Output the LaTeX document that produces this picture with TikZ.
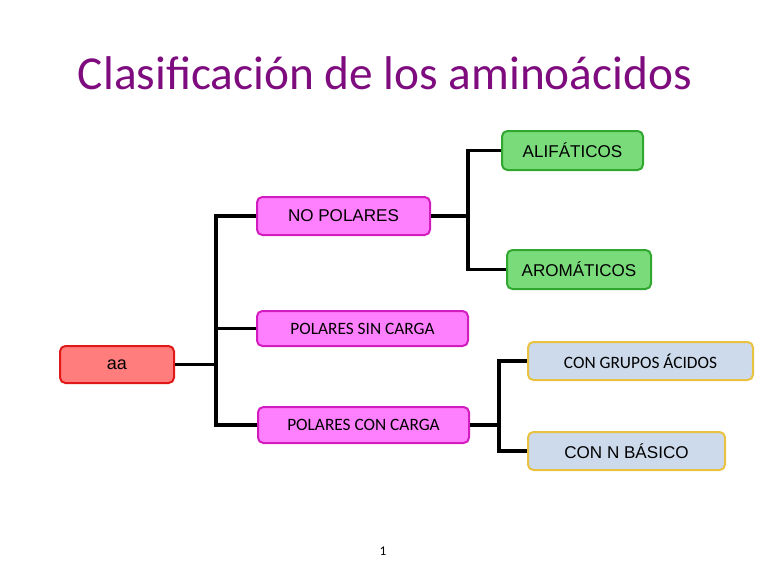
\documentclass[tikz,border=0pt]{standalone}
\usepackage{fontspec}
\setmainfont{Liberation Sans}
\newfontfamily\calibri{Carlito}
\usetikzlibrary{calc}

\definecolor{titlepurple}{HTML}{7F0C7F}
\definecolor{redfill}{HTML}{FF7D7D}
\definecolor{redline}{HTML}{E01818}
\definecolor{pinkfill}{HTML}{FF80FF}
\definecolor{pinkline}{HTML}{D21CC0}
\definecolor{greenfill}{HTML}{7ADB7A}
\definecolor{greenline}{HTML}{30A830}
\definecolor{bluefill}{HTML}{CCDAEB}
\definecolor{goldline}{HTML}{E8C240}

\begin{document}
\begin{tikzpicture}[
    x=0.75pt, y=-0.75pt,
    box/.style={rectangle, rounded corners=4pt, line width=1.5pt, align=center, inner sep=0pt, font=\fontsize{12.8}{14}\selectfont},
    cbox/.style={font=\calibri\fontsize{13}{15}\selectfont},
    rootbox/.style={box, draw=redline, fill=redfill},
    classbox/.style={box, draw=pinkline, fill=pinkfill},
    leafbox/.style={box, draw=greenline, fill=greenfill},
    subbox/.style={box, draw=goldline, fill=bluefill},
    link/.style={draw=black, line width=2.6pt}
  ]
    \useasboundingbox (0,0) rectangle (768,576);
    \node[text=titlepurple, font=\calibri\fontsize{35.5}{40}\selectfont] (title) at (385,73) {Clasificación de los aminoácidos};

    \node[rootbox, minimum width=85.5pt, minimum height=27.75pt, font=\fontsize{13.5}{15}\selectfont] (aa) at (117,364.5) {aa};
    \node[classbox, minimum width=129.75pt, minimum height=28.5pt] (nopol) at (343.5,216) {NO POLARES};
    \node[classbox, cbox, minimum width=158.25pt, minimum height=26.25pt] (sincarga) at (362.5,328.5) {POLARES SIN CARGA};
    \node[classbox, cbox, minimum width=158.25pt, minimum height=27pt] (concarga) at (363.5,425) {POLARES CON CARGA};
    \node[leafbox, minimum width=105.75pt, minimum height=29.25pt] (alif) at (572.5,150.5) {ALIFÁTICOS};
    \node[leafbox, minimum width=108pt, minimum height=29.25pt] (arom) at (579,269.5) {AROMÁTICOS};
    \node[subbox, cbox, minimum width=168.75pt, minimum height=28.5pt] (acidos) at (640.5,361) {CON GRUPOS ÁCIDOS};
    \node[subbox, minimum width=147.75pt, minimum height=28.5pt] (basico) at (626.5,451) {CON N BÁSICO};

    \node[font=\calibri\fontsize{10}{11}\selectfont] (page) at (383,551) {1};

    % aa branches
    \draw[link] (aa.east) -- ++(41,0) |- (nopol.west);
    \draw[link] (aa.east) -- ++(41,0) |- (sincarga.west);
    \draw[link] (aa.east) -- ++(41,0) |- (concarga.west);
    % no polares
    \draw[link] (nopol.east) -- ++(37,0) |- (alif.west);
    \draw[link] (nopol.east) -- ++(37,0) |- (arom.west);
    % con carga
    \draw[link] (concarga.east) -- ++(29,0) |- (acidos.west);
    \draw[link] (concarga.east) -- ++(29,0) |- (basico.west);
  \end{tikzpicture}
\end{document}
